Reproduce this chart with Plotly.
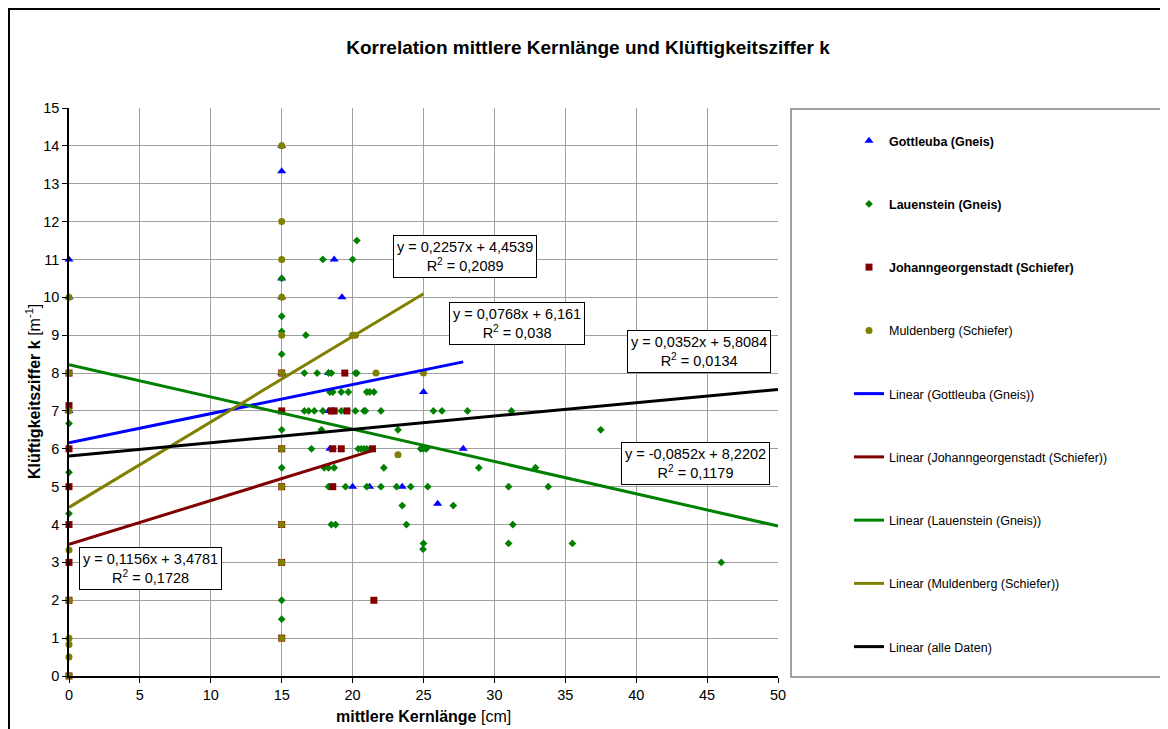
import plotly.graph_objects as go

# ---------------- data ----------------
gott_x = [0, 0, 0, 15, 15, 15, 15, 15, 18.7, 19.25, 18.3, 18.3, 18.4, 20.0, 21.2, 23.5, 25.0, 26.0, 27.8]
gott_y = [11, 10, 7, 14, 13.33, 10.5, 10, 8, 11, 10, 8, 7, 6, 5, 5, 5, 7.5, 4.55, 6]

lau_x = [0, 0, 0,
         15, 15, 15, 15, 15, 15, 15, 15,
         16.7, 17.9, 20.0, 20.3,
         16.6, 17.5, 18.3, 18.5, 20.2, 20.3,
         18.4, 18.6, 19.2, 19.7, 21.0, 21.2, 21.5,
         16.6, 16.9, 17.3, 17.9, 19.2, 20.2, 20.8, 20.9, 22.0, 25.7, 26.3, 28.1, 31.2,
         17.8, 23.2, 37.5,
         17.1, 20.4, 20.6, 20.8, 21.0, 24.8, 25.0, 25.2,
         18.0, 18.3, 18.7, 22.2, 28.9, 32.9,
         18.3, 19.5, 21.0, 22.0, 23.1, 24.1, 25.3, 31.0, 33.8,
         23.5, 27.1,
         18.5, 18.8, 23.8, 31.3,
         25.0, 31.0, 35.5, 24.97, 46.0]
lau_y = [6.67, 5.38, 4.29,
         10.5, 9.5, 9.1, 8.5, 6.5, 5.5, 2.0, 1.5,
         9, 11, 11, 11.5,
         8, 8, 8, 8, 8, 8,
         7.5, 7.5, 7.5, 7.5, 7.5, 7.5, 7.5,
         7, 7, 7, 7, 7, 7, 7, 7, 7, 7, 7, 7, 7,
         6.5, 6.5, 6.5,
         6, 6, 6, 6, 6, 6, 6, 6,
         5.5, 5.5, 5.5, 5.5, 5.5, 5.5,
         5, 5, 5, 5, 5, 5, 5, 5, 5,
         4.5, 4.5,
         4, 4, 4, 4,
         3.5, 3.5, 3.5, 3.35, 3.0]

joh_x = [0, 0, 0, 0, 0, 0, 0, 0,
         15, 15, 15, 15, 15, 15, 15,
         19.45, 18.5, 18.7, 19.6, 18.6, 19.2, 21.4, 18.6, 21.5]
joh_y = [8, 7.14, 6, 5, 4, 3, 2, 0,
         8, 7, 6, 5, 4, 3, 1,
         8, 7, 7, 7, 6, 6, 6, 5, 2]

mul_x = [0, 0, 0, 0, 0, 0, 0, 0, 0,
         15, 15, 15, 15, 15, 15, 15, 15, 15, 15, 15,
         20.0, 20.2, 21.65, 25.0, 23.2]
mul_y = [10, 8, 7, 3.33, 2, 1, 0.83, 0.5, 0,
         14, 12, 11, 10, 9, 8, 6, 5, 4, 3, 1,
         9, 9, 8, 8, 5.84]

# trendlines: slope, intercept, x range (Excel trendline results)
trend_names = ["Linear (Gottleuba (Gneis))", "Linear (Johanngeorgenstadt (Schiefer))",
               "Linear (Lauenstein (Gneis))", "Linear (Muldenberg (Schiefer))", "Linear (alle Daten)"]
trend_slope = [0.0768, 0.1156, -0.0852, 0.2257, 0.0352]
trend_icpt = [6.161, 3.4781, 8.2202, 4.4539, 5.8084]
trend_xmin = [0, 0, 0, 0, 0]
trend_xmax = [27.8, 21.5, 50, 25.0, 50]
trend_r2 = ["0,038", "0,1728", "0,1179", "0,2089", "0,0134"]
trend_colors = ["#0000FF", "#800000", "#008000", "#808000", "#000000"]

FONT = "Liberation Sans, Arial, sans-serif"

# page offset of the figure (body margin) and plot-area geometry in page pixels
OFF = 8
PX0, PX1, PY0, PY1 = 69, 778, 108, 676
PW, PH = PX1 - PX0, PY1 - PY0
W, H = 1168, 729

def px2x(px):
    return (px - PX0) / PW

def py2y(py):
    return (PY1 - py) / PH

fig = go.Figure()

series = [
    ("<b>Gottleuba (Gneis)</b>", gott_x, gott_y, "triangle-up", "#0000FF", 8),
    ("<b>Lauenstein (Gneis)</b>", lau_x, lau_y, "diamond", "#008000", 6),
    ("<b>Johanngeorgenstadt (Schiefer)</b>", joh_x, joh_y, "square", "#800000", 7),
    ("Muldenberg (Schiefer)", mul_x, mul_y, "circle", "#808000", 7),
]
for i, (name, xs, ys, sym, col, sz) in enumerate(series):
    fig.add_trace(go.Scatter(x=xs, y=ys, mode="markers", name=name,
                             legendgroup=f"g{i}", cliponaxis=False,
                             marker=dict(symbol=sym, color=col, size=sz, line=dict(width=0))))

for j in range(len(trend_names)):
    xs = [trend_xmin[j], trend_xmax[j]]
    ys = [trend_slope[j] * x + trend_icpt[j] for x in xs]
    fig.add_trace(go.Scatter(x=xs, y=ys, mode="lines", name=trend_names[j],
                             legendgroup=f"t{j}",
                             line=dict(color=trend_colors[j], width=3)))

def fmt(v, nd):
    s = f"{v:.{nd}f}".rstrip("0").rstrip(".")
    return s.replace(".", ",")

def eq_text(j):
    return f"y = {fmt(trend_slope[j], 4)}x + {fmt(trend_icpt[j], 4)}<br>R<sup>2</sup> = {trend_r2[j]}"

box_pos = {0: (517, 323), 1: (150, 568), 2: (695, 463), 3: (465, 256), 4: (699, 351)}
for j, (px, py) in box_pos.items():
    fig.add_annotation(x=px2x(px), y=py2y(py), xref="paper", yref="paper",
                       text=eq_text(j), showarrow=False, xanchor="center", yanchor="middle",
                       align="center", font=dict(family=FONT, size=14.5, color="black"),
                       bgcolor="white", bordercolor="black", borderwidth=1, borderpad=3)

# axis titles
fig.add_annotation(x=0.5, y=py2y(716), xref="paper", yref="paper",
                   text="<b>mittlere Kernlänge</b> [cm]", showarrow=False,
                   xanchor="center", yanchor="middle", font=dict(family=FONT, size=16, color="black"))
fig.add_annotation(x=px2x(33), y=py2y(392), xref="paper", yref="paper",
                   text="<b>Klüftigkeitsziffer k</b> [m<sup>-1</sup>]", showarrow=False, textangle=-90,
                   xanchor="center", yanchor="middle", font=dict(family=FONT, size=16, color="black"))

# outer frame and legend frame
fig.add_shape(type="rect", xref="paper", yref="paper",
              x0=px2x(OFF + 1), x1=px2x(OFF + W - 1), y0=py2y(OFF + H - 1), y1=py2y(OFF + 1),
              line=dict(color="black", width=2), layer="below")
fig.add_shape(type="rect", xref="paper", yref="paper",
              x0=px2x(791), x1=px2x(1163), y0=py2y(677), y1=py2y(109),
              line=dict(color="#808080", width=1.5), layer="below")

fig.update_layout(
    width=W, height=H,
    margin=dict(l=PX0 - OFF, r=W - (PX1 - OFF), t=PY0 - OFF, b=H - (PY1 - OFF)),
    paper_bgcolor="white", plot_bgcolor="white",
    font=dict(family=FONT, size=14, color="black"),
    title=dict(text="<b>Korrelation mittlere Kernlänge und Klüftigkeitsziffer k</b>",
               x=(588 - OFF) / W, xanchor="center", y=1 - (47 - OFF) / H, yanchor="middle",
               font=dict(family=FONT, size=19, color="black")),
    showlegend=True,
    legend=dict(x=px2x(849), xanchor="left", y=py2y(126), yanchor="top",
                tracegroupgap=44, bgcolor="rgba(0,0,0,0)", borderwidth=0,
                font=dict(family=FONT, size=12.5, color="black"), traceorder="grouped"),
    xaxis=dict(range=[0, 50], dtick=5, showgrid=True, gridcolor="#A0A0A0", gridwidth=1,
               zeroline=False, showline=True, linecolor="black", linewidth=1.5,
               ticks="outside", ticklen=5, tickcolor="black", mirror=False,
               tickfont=dict(family=FONT, size=14.5, color="black")),
    yaxis=dict(range=[0, 15], dtick=1, showgrid=True, gridcolor="#A0A0A0", gridwidth=1,
               zeroline=False, showline=True, linecolor="black", linewidth=1.5,
               ticks="outside", ticklen=5, tickcolor="black", mirror=False,
               tickfont=dict(family=FONT, size=14.5, color="black")),
)

fig.write_html("out.html")
